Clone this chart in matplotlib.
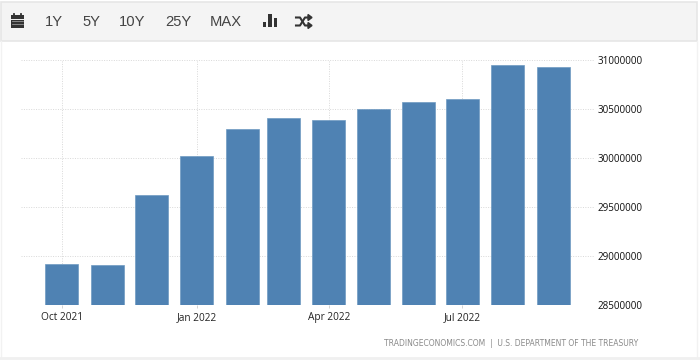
import matplotlib
matplotlib.use("Agg")
import matplotlib.pyplot as plt
import matplotlib.dates as mdates
from matplotlib.patches import Rectangle
from datetime import date

months = ["2021-10","2021-11","2021-12","2022-01","2022-02","2022-03",
          "2022-04","2022-05","2022-06","2022-07","2022-08","2022-09"]
values = [28914000,28908000,29620000,30017000,30292000,30404000,
          30379000,30501000,30567000,30598000,30939000,30924000]
y_ticks = [28500000,29000000,29500000,30000000,30500000,31000000]
x_tick_months = ["2021-10","2022-01","2022-04","2022-07"]
x_tick_labels = ["Oct 2021","Jan 2022","Apr 2022","Jul 2022"]
toolbar_labels = ["1Y","5Y","10Y","25Y","MAX"]
source = "TRADINGECONOMICS.COM  |  U.S. DEPARTMENT OF THE TREASURY"

W, H = 700, 362
fig = plt.figure(figsize=(W/100, H/100), dpi=100, facecolor="white")

# chrome layer in pixel coordinates
bg = fig.add_axes([0,0,1,1], zorder=0)
bg.set_xlim(0,W); bg.set_ylim(H,0); bg.axis("off")
bg.add_patch(Rectangle((1,2),696,39,fc="#f4f4f4",ec="#e6e6e6",lw=1.2))
bg.plot([1,1],[41,357],color="#f2f2f2",lw=1)
bg.plot([697,697],[41,357],color="#f2f2f2",lw=1)
bg.plot([0,700],[358,358],color="#f0f0f0",lw=2)
for lab,x in zip(toolbar_labels,[53.5,91,132.5,178,226]):
    bg.text(x,22.5,lab,ha="center",va="center",fontsize=10.6,color="#444444",family="Liberation Sans")
ic="#333333"
# calendar icon
bg.add_patch(Rectangle((11,15),12.5,12.5,fc=ic,ec="none"))
bg.plot([14,14],[13.5,15.5],color=ic,lw=1.3); bg.plot([20.5,20.5],[13.5,15.5],color=ic,lw=1.3)
bg.plot([11,23.5],[18.5,18.5],color="#f4f4f4",lw=.7)
for yy in (21,23.5):
    bg.plot([12,23],[yy,yy],color="#aaaaaa",lw=.5)
# bars icon
for x0_,h_,w_ in [(263,5,3),(268,13,4),(273.5,9,3)]:
    bg.add_patch(Rectangle((x0_,27-h_),w_,h_,fc=ic,ec="none"))
# shuffle icon
bg.plot([296,300,305,309],[17.5,17.5,25.5,25.5],color=ic,lw=1.5)
bg.plot([296,300,305,309],[25.5,25.5,17.5,17.5],color=ic,lw=1.5)
bg.fill([308,312,308],[14.5,17.5,20.5],color=ic)
bg.fill([308,312,308],[22.5,25.5,28.5],color=ic)
bg.text(638,344,source,ha="right",va="center",fontsize=5.5,color="#8a8a8a",family="DejaVu Sans")

# chart
L,R,T,B = 21,595,59.5,305
ax = fig.add_axes([L/W,1-B/H,(R-L)/W,(B-T)/H], zorder=1)
ax.patch.set_alpha(0)
d = [date(int(m[:4]),int(m[5:]),1) for m in months]
px_per_day = 1.467
x0 = mdates.date2num(date(2021,10,1))
ax.set_xlim(x0-(62-L)/px_per_day, x0+(R-62)/px_per_day)
ax.set_ylim(y_ticks[0],y_ticks[-1])
ax.bar(d,values,width=33/px_per_day,color="#4f82b3",edgecolor="#6f9ac2",linewidth=.5,zorder=3)
ax.set_yticks(y_ticks)
ax.yaxis.tick_right()
ax.set_yticklabels([str(v) for v in y_ticks],fontsize=7.1,color="#111111",family="Open Sans")
tick_d=[date(int(m[:4]),int(m[5:]),1) for m in x_tick_months]
ax.set_xticks(tick_d)
ax.set_xticklabels(x_tick_labels,fontsize=7.3,color="#222222",family="Open Sans")
ax.tick_params(axis="x",length=2,width=.6,color="#cccccc",pad=3)
ax.tick_params(axis="y",length=0,pad=2)
ax.grid(True,color="#d8d8d8",lw=.7,ls=(0,(1,1.5)),zorder=0)
ax.set_axisbelow(True)
for s in ax.spines.values(): s.set_visible(False)

fig.savefig("out.png",dpi=100)
